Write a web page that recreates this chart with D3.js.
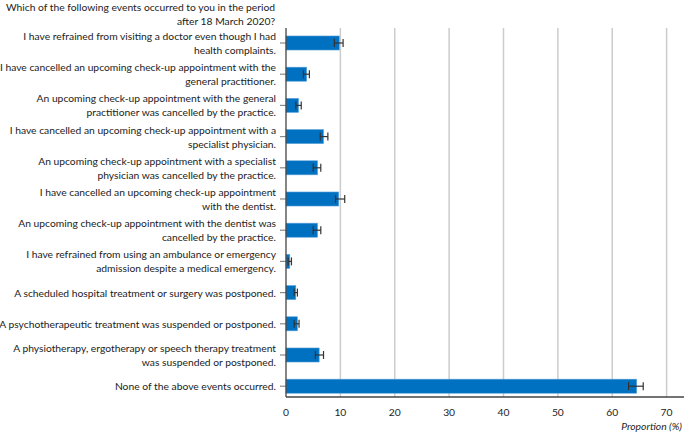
<!DOCTYPE html>
<html>
<head>
<meta charset="utf-8">
<script src="https://cdn.jsdelivr.net/npm/d3@7"></script>
<style>
  body { margin: 0; background: #fff; }
  text { font-family: Lato, "Noto Sans", sans-serif; fill: #222; }
</style>
</head>
<body>
<div id="chart"></div>
<script>
// survey items, two lines where the label wraps
var labels = [
  ["I have refrained from visiting a doctor even though I had", "health complaints."],
  ["I have cancelled an upcoming check-up appointment with the", "general practitioner."],
  ["An upcoming check-up appointment with the general", "practitioner was cancelled by the practice."],
  ["I have cancelled an upcoming check-up appointment with a", "specialist physician."],
  ["An upcoming check-up appointment with a specialist", "physician was cancelled by the practice."],
  ["I have cancelled an upcoming check-up appointment", "with the dentist."],
  ["An upcoming check-up appointment with the dentist was", "cancelled by the practice."],
  ["I have refrained from using an ambulance or emergency", "admission despite a medical emergency."],
  ["A scheduled hospital treatment or surgery was postponed."],
  ["A psychotherapeutic treatment was suspended or postponed."],
  ["A physiotherapy, ergotherapy or speech therapy treatment", "was suspended or postponed."],
  ["None of the above events occurred."]
];
var values = [9.8, 3.8, 2.3, 6.9, 5.8, 9.7, 5.8, 0.7, 1.8, 2.1, 6.1, 64.5];
var ciLow  = [8.9, 3.2, 1.8, 6.3, 5.0, 9.1, 5.0, 0.4, 1.5, 1.5, 5.4, 63.0];
var ciHigh = [10.5, 4.3, 2.8, 7.7, 6.4, 10.8, 6.4, 1.0, 2.1, 2.4, 6.9, 65.7];
var xTicks = [0, 10, 20, 30, 40, 50, 60, 70];
var titleLines = ["Which of the following events occurred to you in the period", "after 18 March 2020?"];

var W = 684, H = 432;
var x0 = 286, axisY = 397;
var fs = "10.3px";

var svg = d3.select("#chart").append("svg")
  .attr("width", W).attr("height", H);

var x = d3.scaleLinear().domain([0, 73.2]).range([x0, W]);
var idx = d3.range(labels.length);
var y = d3.scaleBand().domain(idx).range([27.4, 401.8]).paddingInner(0.55).paddingOuter(0.275);

// title
svg.append("g").selectAll("text")
  .data(titleLines).enter().append("text")
  .attr("x", 275).attr("y", function(d, i) { return 11 + i * 14; })
  .attr("text-anchor", "end")
  .attr("font-size", fs)
  .text(function(d) { return d; });

// grid
svg.append("g").selectAll("line")
  .data(xTicks.slice(1)).enter().append("line")
  .attr("x1", function(d) { return x(d); }).attr("x2", function(d) { return x(d); })
  .attr("y1", 28).attr("y2", axisY)
  .attr("stroke", "#cccccc").attr("stroke-width", 1.5);

// bars
svg.append("g").selectAll("rect")
  .data(idx).enter().append("rect")
  .attr("x", x(0))
  .attr("y", function(i) { return y(i); })
  .attr("width", function(i) { return x(values[i]) - x(0); })
  .attr("height", y.bandwidth())
  .attr("fill", "#0070c0")
  .attr("stroke", "#5ba3dc").attr("stroke-width", 0.6);

// error bars
var eb = svg.append("g").attr("stroke", "#333").attr("stroke-width", 1.2);
idx.forEach(function(i) {
  var cy = y(i) + y.bandwidth() / 2;
  eb.append("line").attr("x1", x(ciLow[i])).attr("x2", x(ciHigh[i])).attr("y1", cy).attr("y2", cy);
  eb.append("line").attr("x1", x(ciLow[i])).attr("x2", x(ciLow[i])).attr("y1", cy - 4).attr("y2", cy + 4);
  eb.append("line").attr("x1", x(ciHigh[i])).attr("x2", x(ciHigh[i])).attr("y1", cy - 4).attr("y2", cy + 4);
});

// y ticks and labels
var yl = svg.append("g");
idx.forEach(function(i) {
  var cy = y(i) + y.bandwidth() / 2;
  yl.append("line").attr("x1", x0 - 6).attr("x2", x0).attr("y1", cy).attr("y2", cy)
    .attr("stroke", "#888").attr("stroke-width", 1.2);
  var lines = labels[i];
  var t = yl.append("text").attr("text-anchor", "end").attr("font-size", fs);
  lines.forEach(function(s, k) {
    t.append("tspan").attr("x", 276)
      .attr("y", cy + 4 + (k - (lines.length - 1) / 2) * 14)
      .text(s);
  });
});

// axes lines
svg.append("line").attr("x1", x0).attr("x2", x0).attr("y1", 28).attr("y2", axisY)
  .attr("stroke", "#444").attr("stroke-width", 1.3);
svg.append("line").attr("x1", x0).attr("x2", W).attr("y1", axisY).attr("y2", axisY)
  .attr("stroke", "#444").attr("stroke-width", 1.3);

// x tick labels
svg.append("g").selectAll("text")
  .data(xTicks).enter().append("text")
  .attr("x", function(d) { return x(d); }).attr("y", 416)
  .attr("text-anchor", "middle").attr("font-size", fs)
  .text(function(d) { return d; });

svg.append("text")
  .attr("x", 682).attr("y", 430).attr("text-anchor", "end")
  .attr("font-size", fs).attr("font-style", "italic")
  .text("Proportion (%)");
</script>
</body>
</html>
